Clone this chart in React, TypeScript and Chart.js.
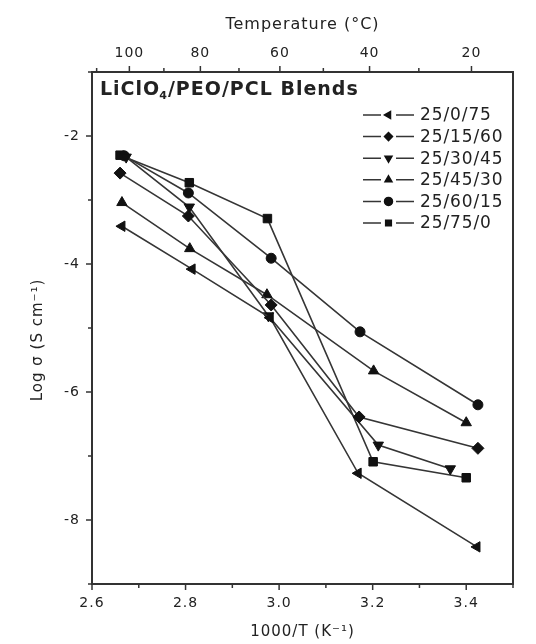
import React, { useEffect, useRef } from 'react';
import { Chart, registerables } from 'chart.js';
import { drawPoint } from 'chart.js/helpers';

Chart.register(...registerables);

// ---- Data ----
const seriesLabels = ['25/0/75', '25/15/60', '25/30/45', '25/45/30', '25/60/15', '25/75/0'];

// x = 1000/T (K^-1), y = log sigma (S cm^-1)
const x_25_0_75 = [2.664, 2.814, 2.981, 3.169, 3.423];
const y_25_0_75 = [-3.41, -4.08, -4.84, -7.27, -8.42];
const x_25_15_60 = [2.66, 2.806, 2.983, 3.171, 3.425];
const y_25_15_60 = [-2.58, -3.25, -4.64, -6.39, -6.88];
const x_25_30_45 = [2.673, 2.808, 2.977, 3.212, 3.366];
const y_25_30_45 = [-2.33, -3.11, -4.81, -6.83, -7.2];
const x_25_45_30 = [2.664, 2.809, 2.974, 3.202, 3.4];
const y_25_45_30 = [-3.04, -3.76, -4.48, -5.67, -6.48];
const x_25_60_15 = [2.669, 2.806, 2.983, 3.173, 3.425];
const y_25_60_15 = [-2.31, -2.89, -3.91, -5.06, -6.2];
const x_25_75_0 = [2.66, 2.808, 2.975, 3.201, 3.4];
const y_25_75_0 = [-2.3, -2.73, -3.29, -7.09, -7.34];

const seriesX = [x_25_0_75, x_25_15_60, x_25_30_45, x_25_45_30, x_25_60_15, x_25_75_0];
const seriesY = [y_25_0_75, y_25_15_60, y_25_30_45, y_25_45_30, y_25_60_15, y_25_75_0];

// Tick labels
const xTickLabels = ['2.6', '2.8', '3.0', '3.2', '3.4'];
const yTickLabels = ['-2', '-4', '-6', '-8'];
const tempMajorLabels = [100, 80, 60, 40, 20];
const tempMinorTicks = [110, 90, 70, 50, 30];

// ---- Styles ----
const FONT = '"DejaVu Sans", "Liberation Sans", sans-serif';
const TEXT = '#222222';
const AXIS = '#333333';
const LINE = '#353535';
const MARK = '#111111';
const pointStyles = ['triangle', 'rectRot', 'triangle', 'triangle', 'circle', 'rect'];
const pointRotations = [-90, 0, 180, 0, 0, 0];
const pointRadii = [6, 6, 6, 6, 5, 6];

const decorPlugin = {
  id: 'decor',
  beforeDraw(chart: any) {
    chart.ctx.letterSpacing = '1px';
  },
  afterDraw(chart: any) {
    const { ctx, chartArea: a, scales } = chart;
    ctx.save();
    // frame
    ctx.strokeStyle = AXIS;
    ctx.lineWidth = 2;
    ctx.strokeRect(a.left, a.top, a.right - a.left, a.bottom - a.top);

    // tick marks (outward)
    ctx.lineWidth = 1.5;
    const marks = (scale: any, side: string) => {
      scale.ticks.forEach((t: any) => {
        const major = t.label !== '' && t.label != null;
        const len = major ? 5 : 3;
        const p = scale.getPixelForValue(t.value);
        ctx.beginPath();
        if (side === 'bottom') {
          ctx.moveTo(p, a.bottom);
          ctx.lineTo(p, a.bottom + 1 + len);
        } else if (side === 'top') {
          ctx.moveTo(p, a.top);
          ctx.lineTo(p, a.top - 1 - len);
        } else {
          ctx.moveTo(a.left, p);
          ctx.lineTo(a.left - 1 - len, p);
        }
        ctx.stroke();
      });
    };
    marks(scales.x, 'bottom');
    marks(scales.x2, 'top');
    marks(scales.y, 'left');

    // y title
    ctx.save();
    ctx.translate(38, 340);
    ctx.rotate(-Math.PI / 2);
    ctx.fillStyle = TEXT;
    ctx.font = `15px ${FONT}`;
    ctx.letterSpacing = '1px';
    ctx.textAlign = 'center';
    ctx.textBaseline = 'middle';
    ctx.fillText('Log σ (S cm⁻¹)', 0, 0);
    ctx.restore();

    // annotation
    ctx.fillStyle = TEXT;
    ctx.textBaseline = 'alphabetic';
    ctx.textAlign = 'left';
    ctx.letterSpacing = '1px';
    ctx.font = `bold 19px ${FONT}`;
    let x = 100;
    const base = 95;
    ctx.fillText('LiClO', x, base);
    x += ctx.measureText('LiClO').width;
    ctx.font = `bold 11px ${FONT}`;
    ctx.fillText('4', x - 1, base + 4);
    x += ctx.measureText('4').width - 1;
    ctx.font = `bold 19px ${FONT}`;
    ctx.fillText('/PEO/PCL Blends', x, base);

    // legend
    chart.data.datasets.forEach((ds: any, i: number) => {
      const cy = 115 + i * 21.6;
      ctx.strokeStyle = LINE;
      ctx.lineWidth = 1.5;
      ctx.beginPath();
      ctx.moveTo(363, cy);
      ctx.lineTo(381, cy);
      ctx.moveTo(396, cy);
      ctx.lineTo(414, cy);
      ctx.stroke();
      ctx.fillStyle = MARK;
      ctx.strokeStyle = MARK;
      drawPoint(ctx, { pointStyle: ds.pointStyle, rotation: ds.pointRotation, radius: 4, borderWidth: 1 }, 388.5, cy);
      ctx.fillStyle = TEXT;
      ctx.font = `17px ${FONT}`;
      ctx.letterSpacing = '0.9px';
      ctx.textAlign = 'left';
      ctx.textBaseline = 'middle';
      ctx.fillText(ds.label, 420, cy + 1);
    });
    ctx.restore();
  },
};

export default function App() {
  const ref = useRef<HTMLCanvasElement | null>(null);

  useEffect(() => {
    if (!ref.current) return;
    const datasets = seriesLabels.map((label, i) => ({
      label,
      data: seriesX[i].map((xv, j) => ({ x: xv, y: seriesY[i][j] })),
      borderColor: LINE,
      borderWidth: 1.6,
      backgroundColor: MARK,
      pointBackgroundColor: MARK,
      pointBorderColor: MARK,
      pointBorderWidth: 1,
      pointStyle: pointStyles[i],
      pointRotation: pointRotations[i],
      pointRadius: pointRadii[i],
      tension: 0,
      fill: false,
    }));

    const tickFont = { family: FONT, size: 14 };
    const chart = new Chart(ref.current, {
      type: 'line',
      data: { datasets },
      options: {
        animation: false,
        responsive: false,
        maintainAspectRatio: false,
        layout: { padding: { left: 0, right: 23, top: 0, bottom: 0 }, autoPadding: false },
        plugins: { legend: { display: false }, tooltip: { enabled: false } },
        scales: {
          x: {
            type: 'linear',
            position: 'bottom',
            min: 2.6,
            max: 3.5,
            grid: { display: false, drawTicks: false },
            border: { display: false },
            ticks: {
              stepSize: 0.1,
              autoSkip: false,
              maxRotation: 0,
              padding: 11,
              color: TEXT,
              font: tickFont,
              callback: (v: any) => {
                const s = Number(v).toFixed(1);
                return xTickLabels.includes(s) ? s : '';
              },
            },
            title: {
              display: true,
              text: '1000/T (K⁻¹)',
              color: TEXT,
              font: { family: FONT, size: 15 },
              padding: { top: 0, bottom: 3 },
            },
            afterFit: (s: any) => {
              s.height = 60;
            },
          },
          x2: {
            type: 'linear',
            position: 'top',
            min: 2.6,
            max: 3.5,
            grid: { display: false, drawTicks: false },
            border: { display: false },
            afterBuildTicks: (s: any) => {
              s.ticks = [...tempMinorTicks, ...tempMajorLabels]
                .sort((p, q) => q - p)
                .map((t) => ({ value: 1000 / (t + 273.15) }));
            },
            ticks: {
              autoSkip: false,
              maxRotation: 0,
              padding: 10,
              color: TEXT,
              font: tickFont,
              callback: (v: any) => {
                const t = Math.round(1000 / Number(v) - 273.15);
                return tempMajorLabels.includes(t) ? String(t) : '';
              },
            },
            title: {
              display: true,
              text: 'Temperature (°C)',
              color: TEXT,
              font: { family: FONT, size: 16 },
              padding: { top: 15, bottom: 0 },
            },
            afterFit: (s: any) => {
              s.height = 72;
            },
          },
          y: {
            type: 'linear',
            position: 'left',
            min: -9,
            max: -1,
            grid: { display: false, drawTicks: false },
            border: { display: false },
            ticks: {
              stepSize: 1,
              autoSkip: false,
              padding: 12,
              color: TEXT,
              font: tickFont,
              callback: (v: any) => {
                const s = String(Math.round(Number(v)));
                return yTickLabels.includes(s) ? s : '';
              },
            },
            afterFit: (s: any) => {
              s.width = 92;
            },
          },
        },
      },
      plugins: [decorPlugin],
    } as any);
    return () => chart.destroy();
  }, []);

  return (
    <div style={{ position: 'absolute', left: 0, top: 0, width: 536, height: 644, background: '#fff' }}>
      <canvas ref={ref} width={536} height={644} style={{ display: 'block' }} />
    </div>
  );
}
